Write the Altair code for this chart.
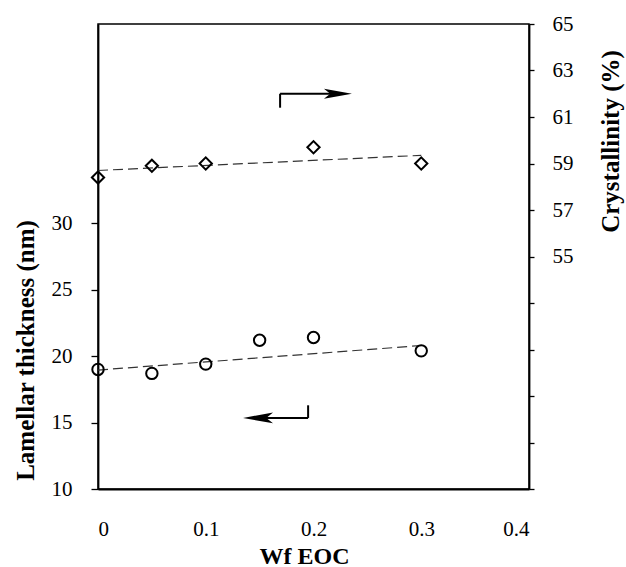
import altair as alt
import pandas as pd

# Lamellar thickness (left axis, open circles)
wf_circle = [0.0, 0.05, 0.10, 0.15, 0.20, 0.30]
lamellar = [19.0, 18.7, 19.4, 21.2, 21.4, 20.4]

# Crystallinity (right axis, open diamonds)
wf_diamond = [0.0, 0.05, 0.10, 0.20, 0.30]
crystallinity = [58.4, 58.9, 59.0, 59.7, 59.0]

# Trend lines drawn through each series
trend_x = [0.0, 0.30]
lamellar_trend = [18.95, 20.8]
crystallinity_trend = [58.7, 59.35]

x_ticks = [0, 0.1, 0.2, 0.3, 0.4]
left_ticks = [10, 15, 20, 25, 30]
right_ticks = list(range(45, 66, 2))

FONT = "Liberation Serif"

circles = pd.DataFrame({"x": wf_circle, "y": lamellar})
diamonds = pd.DataFrame({"x": wf_diamond, "y": crystallinity})
lam_fit = pd.DataFrame({"x": trend_x, "y": lamellar_trend})
cry_fit = pd.DataFrame({"x": trend_x, "y": crystallinity_trend})

x_scale = alt.Scale(domain=[0, 0.4], nice=False, zero=False)
x_axis = alt.Axis(
    values=x_ticks, ticks=False, grid=False, labelPadding=29,
    labelExpr="datum.value == 0 ? '0' : format(datum.value, '.1f')",
    title="Wf EOC", titleX=206, titleY=74, titleBaseline="alphabetic",
    titleAngle=0, titleAlign="center", titleFontSize=24,
)

left_scale = alt.Scale(domain=[10, 45], nice=False, zero=False)
left_axis = alt.Axis(
    orient="left", values=left_ticks, tickSize=7, labelPadding=19, grid=False,
    title="Lamellar thickness (nm)", titleAngle=-90, titleX=-73, titleY=326,
    titleAlign="center", titleBaseline="middle",
)

right_scale = alt.Scale(domain=[45, 65], nice=False, zero=False)
right_axis = alt.Axis(
    orient="right", values=right_ticks, tickSize=5, labelPadding=18, grid=False,
    labelExpr="datum.value >= 55 ? datum.label : ''",
    title="Crystallinity (%)", titleAngle=-90, titleX=81, titleY=117,
    titleAlign="center", titleBaseline="middle",
)

X = alt.X("x:Q", scale=x_scale, axis=x_axis)

def yl(field="y"):
    return alt.Y(f"{field}:Q", scale=left_scale, axis=left_axis)

def yr(field="y"):
    return alt.Y(f"{field}:Q", scale=right_scale, axis=right_axis)

RIGHT_HEAD = "M1,0 L-1,-0.36 L-0.55,0 L-1,0.36 Z"
LEFT_HEAD = "M-1,0 L1,-0.36 L0.55,0 L1,0.36 Z"

# Left-axis group: circles, their trend, and the arrow pointing left
circle_pts = alt.Chart(circles).mark_point(
    shape="circle", filled=False, stroke="black", strokeWidth=2, size=130, opacity=1
).encode(x=X, y=yl())
circle_line = alt.Chart(lam_fit).mark_line(
    color="#333333", strokeWidth=1.2, strokeDash=[10, 5]
).encode(x=X, y=yl())

low_h = pd.DataFrame({"x": [0.1485], "x2": [0.195], "y": [15.35]})
low_v = pd.DataFrame({"x": [0.195], "y": [15.35], "y2": [16.3]})
low_head = pd.DataFrame({"x": [0.1485], "y": [15.35]})
low_arrow = alt.layer(
    alt.Chart(low_h).mark_rule(color="black", strokeWidth=2).encode(
        x=X, x2="x2:Q", y=yl()),
    alt.Chart(low_v).mark_rule(color="black", strokeWidth=2).encode(
        x=X, y=yl(), y2="y2:Q"),
    alt.Chart(low_head).mark_point(
        shape=LEFT_HEAD, filled=True, color="black", size=900, opacity=1
    ).encode(x=X, y=yl()),
)

left_group = alt.layer(circle_line, circle_pts, low_arrow)

# Right-axis group: diamonds, their trend, and the arrow pointing right
diamond_pts = alt.Chart(diamonds).mark_point(
    shape="diamond", filled=False, stroke="black", strokeWidth=2, size=150, opacity=1
).encode(x=X, y=yr())
diamond_line = alt.Chart(cry_fit).mark_line(
    color="#333333", strokeWidth=1.2, strokeDash=[10, 5]
).encode(x=X, y=yr())

up_h = pd.DataFrame({"x": [0.169], "x2": [0.2227], "y": [62.0]})
up_v = pd.DataFrame({"x": [0.169], "y": [61.4], "y2": [62.0]})
up_head = pd.DataFrame({"x": [0.2227], "y": [62.0]})
up_arrow = alt.layer(
    alt.Chart(up_h).mark_rule(color="black", strokeWidth=2).encode(
        x=X, x2="x2:Q", y=yr()),
    alt.Chart(up_v).mark_rule(color="black", strokeWidth=2).encode(
        x=X, y=yr(), y2="y2:Q"),
    alt.Chart(up_head).mark_point(
        shape=RIGHT_HEAD, filled=True, color="black", size=784, opacity=1
    ).encode(x=X, y=yr()),
)

right_group = alt.layer(diamond_line, diamond_pts, up_arrow)

chart = alt.layer(left_group, right_group).resolve_scale(
    y="independent"
).properties(
    width=431, height=465,
    autosize=alt.AutoSizeParams(type="none"),
    padding={"left": 98, "top": 24, "right": 97, "bottom": 78},
    background="white",
).configure_view(
    stroke="black", strokeWidth=1.5
).configure_axis(
    domainColor="black", domainWidth=1.8, tickColor="black", tickWidth=1.3,
    labelFont=FONT, labelFontSize=21, labelColor="black",
    titleFont=FONT, titleFontSize=25, titleFontWeight="bold", titleColor="black",
)

chart.save("out.html", embed_options={"renderer": "svg", "actions": False})
